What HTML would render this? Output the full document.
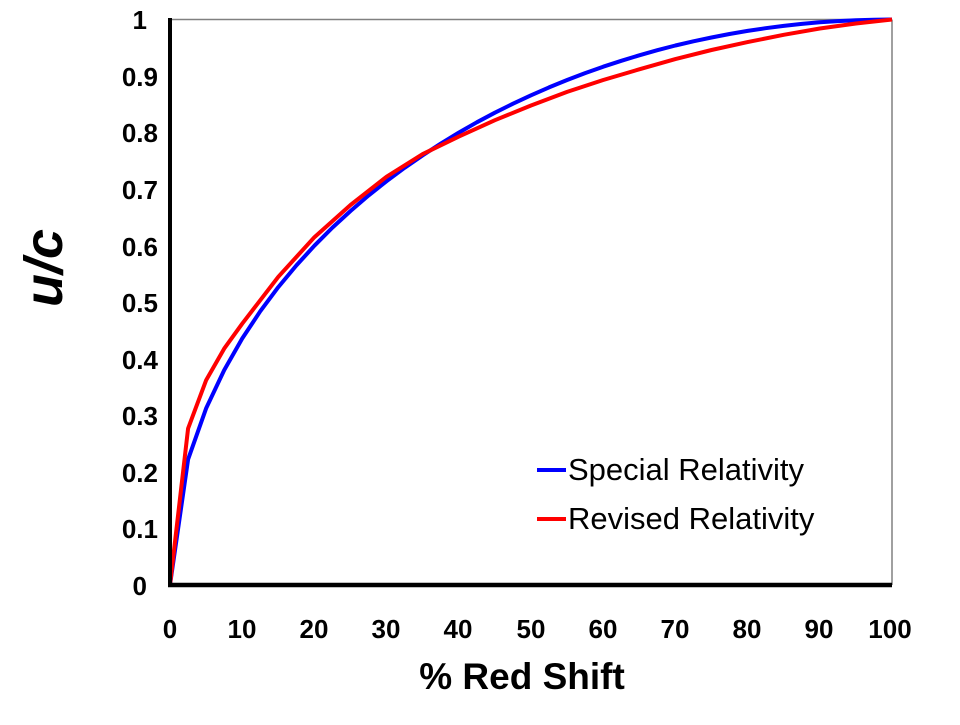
<!DOCTYPE html>
<html><head><style>body{margin:0;background:#fff}</style></head><body>
<svg width="960" height="720" xmlns="http://www.w3.org/2000/svg" font-family="Liberation Sans, Arial, sans-serif">
<rect width="960" height="720" fill="#fff"/>
<line x1="170" y1="19.5" x2="892" y2="19.5" stroke="#808080" stroke-width="1.5"/>
<line x1="892" y1="19.5" x2="892" y2="585" stroke="#808080" stroke-width="1.5"/>
<g font-size="26" font-weight="bold" text-anchor="end">
<text x="147" y="595">0</text><text x="158" y="538">0.1</text><text x="158" y="482">0.2</text><text x="158" y="425">0.3</text><text x="158" y="369">0.4</text><text x="158" y="312">0.5</text><text x="158" y="256">0.6</text><text x="158" y="199">0.7</text><text x="158" y="142">0.8</text><text x="158" y="86">0.9</text><text x="147" y="29">1</text>
</g>
<g font-size="26" font-weight="bold" text-anchor="middle">
<text x="170" y="638">0</text><text x="242" y="638">10</text><text x="314" y="638">20</text><text x="386" y="638">30</text><text x="458" y="638">40</text><text x="531" y="638">50</text><text x="603" y="638">60</text><text x="675" y="638">70</text><text x="747" y="638">80</text><text x="819" y="638">90</text><text x="890" y="638">100</text>
</g>
<text x="522" y="689" font-size="37" font-weight="bold" text-anchor="middle">% Red Shift</text>
<text transform="translate(62,268) rotate(-90)" font-size="54" font-weight="bold" font-style="italic" text-anchor="middle">u/c</text>
<polyline id="b" fill="none" stroke="#0000ff" stroke-width="4" stroke-linejoin="round"/>
<polyline id="r" fill="none" stroke="#ff0000" stroke-width="4" stroke-linejoin="round"/>
<line x1="170" y1="18" x2="170" y2="587" stroke="#000" stroke-width="4"/>
<line x1="168" y1="585" x2="892" y2="585" stroke="#000" stroke-width="4.5"/>
<line x1="537" y1="470" x2="566" y2="470" stroke="#0000ff" stroke-width="4"/>
<line x1="537" y1="519" x2="566" y2="519" stroke="#ff0000" stroke-width="4"/>
<text x="568" y="480" font-size="31">Special Relativity</text>
<text x="568" y="529" font-size="31">Revised Relativity</text>
</svg>
<script>
function X(p){return 170+p*7.22}function Y(u){return 585-u*565.5}
var bp=[];for(var p=0;p<=100;p+=2.5){var x=p/100;var u=Math.sqrt(x*(2-x));bp.push(X(p).toFixed(1)+","+Y(u).toFixed(1));}
document.getElementById("b").setAttribute("points",bp.join(" "));
var rd=[[0,0],[2.5,.277],[5,.362],[7.5,.418],[10,.462],[15,.545],[20,.615],[25,.672],[30,.722],[35,.762],[40,.793],[45,.822],[50,.848],[55,.872],[60,.893],[65,.912],[70,.93],[75,.946],[80,.96],[85,.973],[90,.984],[95,.993],[100,1]];
document.getElementById("r").setAttribute("points",rd.map(function(d){return X(d[0]).toFixed(1)+","+Y(d[1]).toFixed(1)}).join(" "));
</script>
</body></html>
